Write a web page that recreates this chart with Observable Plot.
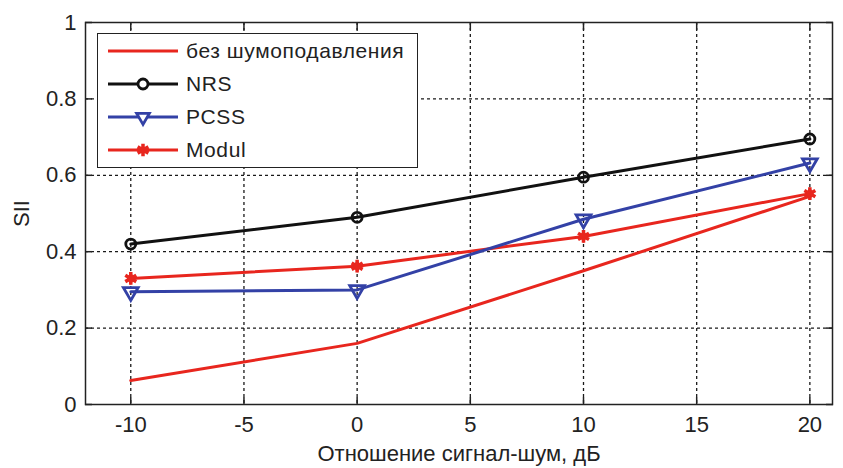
<!DOCTYPE html>
<html><head><meta charset="utf-8">
<script src="https://cdn.jsdelivr.net/npm/d3@7"></script>
<script src="https://cdn.jsdelivr.net/npm/@observablehq/plot@0.6"></script>
<style>
body{margin:0;background:#fff;font-family:"Liberation Sans",Arial,sans-serif;}
#wrap{position:relative;width:843px;height:468px;}
#legend{position:absolute;left:97px;top:33px;width:321px;height:135px;background:#fff;border:1.5px solid #222;box-sizing:border-box;}
#legend svg{position:absolute;left:0;top:0}
</style></head><body>
<div id="wrap"></div>
<script>
const snr = [-10, 0, 10, 20];
const noNR = [0.063, 0.16, 0.35, 0.545];
const nrs = [0.42, 0.49, 0.595, 0.695];
const pcss = [0.295, 0.30, 0.485, 0.632];
const modul = [0.33, 0.362, 0.44, 0.552];
const seriesNames = ["без шумоподавления", "NRS", "PCSS", "Modul"];
const xTicks = [-10, -5, 0, 5, 10, 15, 20];
const yTicks = [0, 0.2, 0.4, 0.6, 0.8, 1];
const RED = "#e8261e", BLUE = "#3341a6", BLACK = "#111";

const rows = (vals, name) => snr.map((x, i) => ({x, y: vals[i], name}));
const dNo = rows(noNR, seriesNames[0]);
const dNrs = rows(nrs, seriesNames[1]);
const dPcss = rows(pcss, seriesNames[2]);
const dMod = rows(modul, seriesNames[3]);

const fmt = d => String(d);

const chart = Plot.plot({
  width: 843, height: 468,
  marginLeft: 85, marginRight: 11, marginTop: 22, marginBottom: 64,
  style: {fontFamily: "Liberation Sans, Arial, sans-serif", fontSize: "22px", color: "#222", background: "#fff"},
  x: {domain: [-12, 21]},
  y: {domain: [0, 1]},
  marks: [
    Plot.gridX(xTicks, {stroke: "#000", strokeOpacity: 0.9, strokeDasharray: "3,3", strokeWidth: 1.3}),
    Plot.gridY([0.2, 0.4, 0.6, 0.8], {stroke: "#000", strokeOpacity: 0.9, strokeDasharray: "3,3", strokeWidth: 1.3}),
    Plot.frame({stroke: "#222", strokeWidth: 1.5}),
    Plot.axisX(xTicks, {anchor: "bottom", tickSize: -7, tickPadding: 19, fontSize: 22, tickFormat: fmt, label: "Отношение сигнал-шум, дБ", labelAnchor: "center", labelArrow: "none", labelOffset: 56, strokeWidth: 1.5}),
    Plot.axisX(xTicks, {anchor: "top", tickSize: -7, text: null, label: null, strokeWidth: 1.5}),
    Plot.axisY(yTicks, {anchor: "left", tickSize: -7, tickPadding: 16, fontSize: 22, tickFormat: fmt, label: "SII", labelAnchor: "center", labelArrow: "none", labelOffset: 72, strokeWidth: 1.5}),
    Plot.axisY(yTicks, {anchor: "right", tickSize: -7, text: null, label: null, strokeWidth: 1.5}),
    Plot.line(dNo, {x: "x", y: "y", stroke: RED, strokeWidth: 3}),
    Plot.line(dMod, {x: "x", y: "y", stroke: RED, strokeWidth: 3}),
    Plot.dot(dMod, {x: "x", y: "y", symbol: "asterisk", r: 6, stroke: RED, strokeWidth: 3.5}),
    Plot.dot(dMod, {x: "x", y: "y", symbol: "diamond", r: 4, fill: RED}),
    Plot.line(dPcss, {x: "x", y: "y", stroke: BLUE, strokeWidth: 3}),
    Plot.dot(dPcss, {x: "x", y: "y", symbol: "triangle", rotate: 180, r: 5.5, stroke: BLUE, strokeWidth: 2.8, fill: "none"}),
    Plot.line(dNrs, {x: "x", y: "y", stroke: BLACK, strokeWidth: 3}),
    Plot.dot(dNrs, {x: "x", y: "y", symbol: "circle", r: 5, stroke: BLACK, strokeWidth: 2.8, fill: "none"})
  ]
});
const wrap = document.getElementById("wrap");
wrap.appendChild(chart);

// Legend overlay (HTML/SVG)
const leg = document.createElement("div");
leg.id = "legend";
const items = [
  {name: seriesNames[0], color: RED, sym: null},
  {name: seriesNames[1], color: BLACK, sym: "circle"},
  {name: seriesNames[2], color: BLUE, sym: "triangle"},
  {name: seriesNames[3], color: RED, sym: "asterisk"}
];
const ns = "http://www.w3.org/2000/svg";
const svg = document.createElementNS(ns, "svg");
svg.setAttribute("width", 318); svg.setAttribute("height", 132);
items.forEach((it, i) => {
  const cy = 17 + i * 33;
  const ln = document.createElementNS(ns, "line");
  ln.setAttribute("x1", 10); ln.setAttribute("x2", 80);
  ln.setAttribute("y1", cy); ln.setAttribute("y2", cy);
  ln.setAttribute("stroke", it.color); ln.setAttribute("stroke-width", 3);
  svg.appendChild(ln);
  const sym = it.sym === "circle" ? d3.symbolCircle : it.sym === "triangle" ? d3.symbolTriangle : it.sym === "asterisk" ? d3.symbolAsterisk : null;
  if (sym) {
    const p = document.createElementNS(ns, "path");
    const size = it.sym === "circle" ? Math.PI * 25 : it.sym === "triangle" ? 70 : 110;
    p.setAttribute("d", d3.symbol(sym, size)());
    p.setAttribute("transform", `translate(45,${cy})` + (it.sym === "triangle" ? " rotate(180)" : ""));
    p.setAttribute("fill", it.sym === "asterisk" ? it.color : "#fff");
    p.setAttribute("stroke", it.color); p.setAttribute("stroke-width", it.sym === "asterisk" ? 3.5 : 2.8);
    svg.appendChild(p);
  }
  const t = document.createElementNS(ns, "text");
  t.setAttribute("x", 88); t.setAttribute("y", cy);
  t.setAttribute("dy", "0.35em");
  t.setAttribute("font-size", 21);
  t.setAttribute("letter-spacing", "0.6");
  t.setAttribute("font-family", "Liberation Sans, Arial, sans-serif");
  t.setAttribute("fill", "#222");
  t.textContent = it.name;
  svg.appendChild(t);
});
leg.appendChild(svg);
wrap.appendChild(leg);
</script>
</body></html>
